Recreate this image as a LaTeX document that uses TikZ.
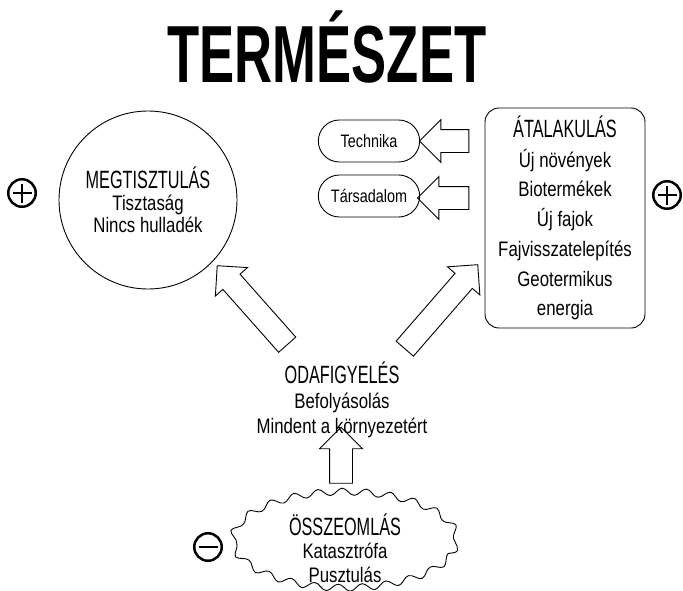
\documentclass[tikz,border=0pt]{standalone}
\usepackage{fontspec}
\setmainfont[FakeStretch=0.8]{Liberation Sans}
\newfontfamily\capsfont[FakeStretch=0.65]{Liberation Sans}
\usetikzlibrary{shapes.geometric,shapes.misc,shapes.arrows,decorations.pathmorphing,calc}

\tikzset{
	textblock/.style={align=center, inner sep=0pt},
	bubble/.style={draw, line width=0.9pt},
	pill/.style={bubble, rounded rectangle, minimum width=108pt, minimum height=42pt, font=\fontsize{18}{20}\selectfont},
	blockarrow/.style={draw, line width=0.9pt, single arrow, inner xsep=0pt, inner ysep=11pt,
		single arrow head extend=10pt, single arrow tip angle=90, sloped, allow upside down},
	sign/.style={draw, circle, minimum size=27.5pt, inner sep=0pt, line width=2.5pt},
	signbar/.style={line width=2.5pt},
}
\newcommand{\heading}[2]{{\capsfont\fontsize{25}{#2}\selectfont #1}}
\newcommand{\blockconnect}[2]{%
	\path let \p1=($(#2)-(#1)$), \n1={veclen(\x1,\y1)} in (#1) -- node[blockarrow, minimum height=\n1] {} (#2);}

\begin{document}
\begin{tikzpicture}[x=1pt, y=-1pt]
	\useasboundingbox (0, 0) rectangle (683, 590);

	\node[anchor=base] (title) at (327, 82) {\capsfont\bfseries\fontsize{81}{81}\selectfont TERMÉSZET};

	% circle on the left
	\node[bubble, circle, minimum size=178pt, textblock, font=\fontsize{21}{22}\selectfont] (clean) at (148, 200)
		{\heading{MEGTISZTULÁS}{22}\\Tisztaság\\Nincs hulladék};

	% box on the right
	\node[bubble, rounded corners=14pt, minimum width=160pt, minimum height=220pt, textblock,
		font=\fontsize{21}{29.7}\selectfont] (change) at (565, 218)
		{\heading{ÁTALAKULÁS}{29.7}\\Új növények\\Biotermékek\\Új fajok\\Fajvisszatelepítés\\Geotermikus\\energia};
	\node[pill] (tech) at (369, 141) {Technika};
	\node[pill] (society) at (369, 196) {Társadalom};

	% middle and bottom
	\node[textblock, font=\fontsize{21}{25}\selectfont] (care) at (342, 400)
		{\heading{ODAFIGYELÉS}{25}\\Befolyásolás\\Mindent a környezetért};
	\node[bubble, ellipse, minimum width=224pt, minimum height=96pt, decorate,
		decoration={snake, amplitude=3.5pt, segment length=24pt}] (collapse) at (345, 546) {};
	\node[textblock, font=\fontsize{21}{23.5}\selectfont] (collapsetext) at (345, 548)
		{\heading{ÖSSZEOMLÁS}{23.5}\\Katasztrófa\\Pusztulás};

	% signs
	\node[sign] (plusleft) at (22, 193) {};
	\draw[signbar] ([xshift=-9.5pt]plusleft.center) -- ([xshift=9.5pt]plusleft.center);
	\draw[signbar] ([yshift=-9.5pt]plusleft.center) -- ([yshift=9.5pt]plusleft.center);
	\node[sign] (plusright) at (667, 195) {};
	\draw[signbar] ([xshift=-9.5pt]plusright.center) -- ([xshift=9.5pt]plusright.center);
	\draw[signbar] ([yshift=-9.5pt]plusright.center) -- ([yshift=9.5pt]plusright.center);
	\node[sign] (minus) at (208, 547) {};
	\draw[signbar] ([xshift=-9.5pt]minus.center) -- ([xshift=9.5pt]minus.center);

	% hollow arrows
	\coordinate (techtail) at ($(change.west |- tech.east)+(-10, 0)$);
	\coordinate (techtip) at ($(tech.east)+(5, 0)$);
	\coordinate (societytail) at ($(change.west |- society.east)+(-10, 2)$);
	\coordinate (societytip) at ($(society.east)+(3, 2)$);
	\coordinate (cleantail) at (291, 349);
	\coordinate (cleantip) at (221, 270);
	\coordinate (changetail) at (401, 353);
	\coordinate (changetip) at (474, 269);
	\coordinate (collapsetail) at (341, 489);
	\coordinate (caretip) at (341, 433);
	\blockconnect{techtail}{techtip}
	\blockconnect{societytail}{societytip}
	\blockconnect{cleantail}{cleantip}
	\blockconnect{changetail}{changetip}
	\blockconnect{collapsetail}{caretip}
\end{tikzpicture}
\end{document}
